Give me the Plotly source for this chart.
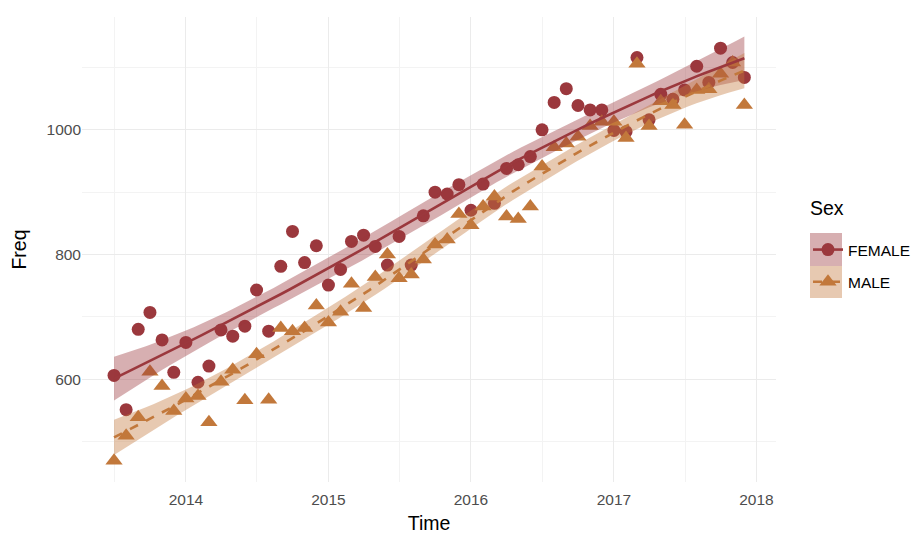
import numpy as np
import pandas as pd
import plotly.graph_objects as go

# ---- data (monthly counts, Jul 2013 - Dec 2017) ----
months = pd.date_range("2013-07-01", "2017-12-01", freq="MS")

female = [606, 551, 680, 707, 663, 611,
          659, 595, 621, 679, 669, 685, 743, 677, 781, 837, 787, 814,
          751, 776, 821, 831, 813, 783, 829, 783, 862, 900, 897, 912,
          871, 913, 882, 938, 944, 957, 1000, 1044, 1066, 1039, 1032, 1032,
          999, 997, 1116, 1016, 1057, 1049, 1064, 1102, 1076, 1131, 1108, 1084]

male = [469, 509, 539, 612, 589, 549,
        569, 573, 531, 596, 615, 566, 640, 567, 682, 677, 682, 718,
        691, 708, 753, 714, 764, 800, 762, 768, 792, 816, 824, 865,
        847, 877, 893, 861, 857, 877, 941, 972, 978, 989, 1006, 1013,
        1013, 987, 1106, 1006, 1046, 1040, 1008, 1064, 1065, 1090, 1108, 1040]

groups = ["FEMALE", "MALE"]
x_tick_vals = ["2014-01-01", "2015-01-01", "2016-01-01", "2017-01-01", "2018-01-01"]
x_tick_text = ["2014", "2015", "2016", "2017", "2018"]
x_minor_vals = ["2013-07-02", "2014-07-02", "2015-07-02", "2016-07-02", "2017-07-02"]
y_tick_vals = [600, 800, 1000]
y_minor_vals = [500, 700, 900, 1100]

COL = {"FEMALE": "#9B383D", "MALE": "#C2783B"}
FILL = {"FEMALE": "rgba(155,56,61,0.40)", "MALE": "rgba(194,120,59,0.40)"}


def loess_smooth(x, y, xs, span=1.0, cell=0.2, tq=2.01):
    """Local quadratic loess with kd-tree vertex interpolation (like R)."""
    x = np.asarray(x, float)
    y = np.asarray(y, float)
    n = len(x)
    q = int(np.floor(n * min(span, 1.0)))

    def local(x0):
        d = np.abs(x - x0)
        h = np.sort(d)[q - 1] * max(1.0, span)
        w = np.clip(1 - (d / h) ** 3, 0, None) ** 3
        X = np.column_stack([np.ones(n), x - x0, (x - x0) ** 2])
        XtW = X.T * w
        A = np.linalg.solve(XtW @ X, XtW)
        return A[0], A[1]

    xsort = np.sort(x)
    fc = int(np.floor(n * span * cell))
    rng = xsort[-1] - xsort[0]
    verts = [xsort[0] - 0.005 * rng, xsort[-1] + 0.005 * rng]

    def split(lo, hi):
        if hi - lo + 1 <= fc:
            return
        m = (lo + hi) // 2
        verts.append(0.5 * (xsort[m] + xsort[m + 1]))
        split(lo, m)
        split(m + 1, hi)

    split(0, n - 1)
    verts = np.sort(np.array(verts))
    VV, VD = zip(*[local(v) for v in verts])
    VV = np.array(VV)
    VD = np.array(VD)

    def rows(ts):
        out = []
        for t in ts:
            k = min(max(np.searchsorted(verts, t) - 1, 0), len(verts) - 2)
            h = verts[k + 1] - verts[k]
            s = (t - verts[k]) / h
            h00 = 2 * s ** 3 - 3 * s ** 2 + 1
            h10 = s ** 3 - 2 * s ** 2 + s
            h01 = -2 * s ** 3 + 3 * s ** 2
            h11 = s ** 3 - s ** 2
            out.append(h00 * VV[k] + h10 * h * VD[k] + h01 * VV[k + 1] + h11 * h * VD[k + 1])
        return np.array(out)

    L = rows(x)
    resid = y - L @ y
    IL = np.eye(n) - L
    d1 = np.trace(IL.T @ IL)
    sigma = np.sqrt(np.sum(resid ** 2) / d1)
    Ls = rows(xs)
    fit = Ls @ y
    se = sigma * np.sqrt(np.sum(Ls ** 2, axis=1))
    return fit, fit - tq * se, fit + tq * se


xnum = (months - months[0]).days.values.astype(float)
xs_num = np.linspace(xnum.min(), xnum.max(), 80)
xs_dates = months[0] + pd.to_timedelta(xs_num, unit="D")

fig = go.Figure()

series = {"FEMALE": female, "MALE": male}
sym = {"FEMALE": "circle", "MALE": "triangle-up"}
msize = {"FEMALE": 13, "MALE": 15}
dash = {"FEMALE": "solid", "MALE": "dash"}

for g in groups:
    fig.add_trace(go.Scatter(x=months, y=series[g], mode="markers",
                             marker=dict(symbol=sym[g], size=msize[g], color=COL[g]),
                             showlegend=False, hoverinfo="skip"))

smooth = {g: loess_smooth(xnum, series[g], xs_num) for g in groups}

for g in groups:
    fit, lo, hi = smooth[g]
    fig.add_trace(go.Scatter(x=xs_dates, y=lo, mode="lines", line=dict(width=0),
                             showlegend=False, hoverinfo="skip"))
    fig.add_trace(go.Scatter(x=xs_dates, y=hi, mode="lines", line=dict(width=0),
                             fill="tonexty", fillcolor=FILL[g],
                             showlegend=False, hoverinfo="skip"))
for g in groups:
    fit, lo, hi = smooth[g]
    fig.add_trace(go.Scatter(x=xs_dates, y=fit, mode="lines",
                             line=dict(color=COL[g], width=2.6, dash=dash[g]),
                             showlegend=False, hoverinfo="skip"))

# legend entries
for g in groups:
    fig.add_trace(go.Scatter(x=[None], y=[None], mode="lines+markers", name=g,
                             legendgroup=g,
                             marker=dict(symbol=sym[g], size=msize[g], color=COL[g]),
                             line=dict(color=COL[g], width=2.6, dash=dash[g])))

# screen-pixel helpers (page has an 8px body margin)
L_PX, T_PX, W_PX, H_PX = 82, 17, 694, 465
def px_x(p):
    return (p - L_PX) / W_PX
def px_y(p):
    return (T_PX + H_PX - p) / H_PX

key_boxes = {"FEMALE": (233, 266), "MALE": (266, 298)}
for g in groups:
    y0, y1 = key_boxes[g]
    fig.add_shape(type="rect", xref="paper", yref="paper",
                  x0=px_x(810), x1=px_x(842), y0=px_y(y1), y1=px_y(y0),
                  fillcolor=FILL[g], line=dict(width=0), layer="below")

fig.add_annotation(text="Sex", xref="paper", yref="paper", x=px_x(808), y=px_y(208),
                   xanchor="left", yanchor="middle", showarrow=False,
                   font=dict(size=19.5, color="black"))

fig.update_layout(
    width=921, height=534,
    margin=dict(l=L_PX - 8, r=921 - (L_PX - 8) - W_PX, t=T_PX - 8, b=534 - (T_PX - 8) - H_PX),
    paper_bgcolor="white", plot_bgcolor="white",
    font=dict(family="Liberation Sans, Arial, sans-serif", size=15.5, color="#4D4D4D"),
    legend=dict(x=px_x(808), y=px_y(233), xanchor="left", yanchor="top",
                font=dict(size=15.5, color="black"), itemwidth=30,
                traceorder="grouped", tracegroupgap=9, bgcolor="rgba(0,0,0,0)"),
    showlegend=True,
)
fig.update_xaxes(
    type="date", automargin=False,
    range=["2013-04-10", "2018-02-20"],
    tickvals=x_tick_vals, ticktext=x_tick_text,
    showgrid=True, gridcolor="#EBEBEB", gridwidth=1.1,
    minor=dict(tickvals=x_minor_vals, showgrid=True, gridcolor="#F3F3F3", gridwidth=1),
    zeroline=False, showline=False, ticks="", ticklabelstandoff=6,
    title=dict(text="Time", font=dict(size=19.5, color="black"), standoff=9),
    tickfont=dict(size=15.5, color="#4D4D4D"),
)
fig.update_yaxes(
    automargin=False,
    range=[435, 1181],
    tickvals=y_tick_vals,
    showgrid=True, gridcolor="#EBEBEB", gridwidth=1.1,
    minor=dict(tickvals=y_minor_vals, showgrid=True, gridcolor="#F3F3F3", gridwidth=1),
    zeroline=False, showline=False, ticks="",
    title=dict(text="Freq", font=dict(size=19.5, color="black"), standoff=15),
    tickfont=dict(size=15.5, color="#4D4D4D"),
)

fig.write_html("out.html")
